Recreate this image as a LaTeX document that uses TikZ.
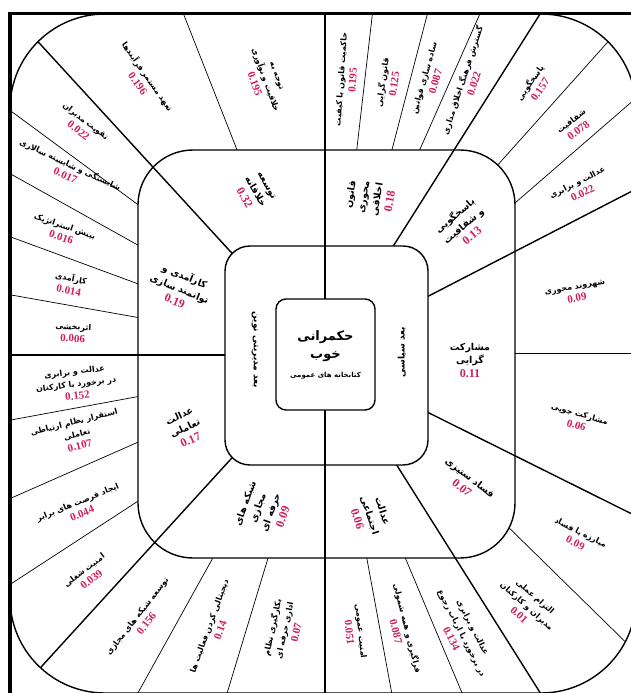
\documentclass[tikz,border=0pt]{standalone}
\usepackage{fontspec}
\TeXXeTstate=1
\newfontfamily\persianfont[Script=Arabic]{DejaVu Sans}
\newfontfamily\numfont{Liberation Serif}
\definecolor{numred}{HTML}{D41E5A}
\newcommand\pers[1]{{\persianfont\bfseries\beginR #1\endR}}
\newcommand\numv[1]{{\numfont\bfseries\color{numred}\fontsize{11}{12}\selectfont #1}}
\newcommand\numw[1]{{\numfont\bfseries\color{numred}\fontsize{12}{13}\selectfont #1}}
\begin{document}
\begin{tikzpicture}[x=1pt,y=-1pt,
  thinl/.style={line width=0.7pt},
  thickl/.style={line width=1.4pt},
  border/.style={line width=1.4pt},
  olab/.style={align=center, inner sep=0pt, font=\fontsize{8}{12.5}\selectfont},
  mlab/.style={align=center, inner sep=0pt, font=\fontsize{9.5}{13.5}\selectfont},
  ilab/.style={inner sep=0pt, font=\fontsize{9}{11}\selectfont}]
\useasboundingbox (0,0) rectangle (630,693);
\fill[white] (0,0) rectangle (630,693);
% ---------- outer ring dividers ----------
\begin{scope}
\clip[rounded corners=95pt] (10,14) rectangle (636,693);
\draw[thinl] (152,320) -- (0,293);
\draw[thinl] (152,289) -- (0,233);
\draw[thinl] (152,253) -- (0,168);
\draw[thinl] (152,215) -- (0,103);
\draw[thinl] (243,165) -- (178,0);
\draw[thinl] (355,165) -- (374,0);
\draw[thinl] (388,165) -- (431,0);
\draw[thinl] (413,165) -- (486,0);
\draw[thinl] (487,177) -- (640,6);
\draw[thinl] (500,216) -- (650,86);
\draw[thinl] (500,353) -- (640,353);
\draw[thinl] (498,517) -- (650,666);
\draw[thinl] (399,543) -- (465,700);
\draw[thinl] (364,543) -- (393,700);
\draw[thinl] (272,545) -- (225,700);
\draw[thinl] (220,545) -- (134,700);
\draw[thinl] (152,394) -- (0,422);
\draw[thinl] (152,436) -- (0,503);
\draw[thinl] (152,492) -- (0,591);
\draw[thickl] (325,-10) -- (325,710);
\draw[thickl] (-10,355) -- (240,355);
\draw[thickl] (251,274) -- (19,21);
\draw[thickl] (251,437) -- (21,689);
\draw[thickl] (387,256) -- (547,3);
\draw[thickl] (391,456) -- (546,702);
\draw[thickl] (417,302) -- (640,187);
\draw[thickl] (417,407) -- (640,518);
\end{scope}
% ---------- middle ring ----------
\fill[white, rounded corners=55pt] (138,150) rectangle (515,558);
\begin{scope}
\clip[rounded corners=55pt] (138,150) rectangle (515,558);
\draw[thickl] (325,100) -- (325,600);
\draw[thickl] (100,355) -- (240,355);
\draw[thickl] (251,274) -- (19,21);
\draw[thickl] (251,437) -- (21,689);
\draw[thickl] (387,256) -- (547,3);
\draw[thickl] (391,456) -- (546,702);
\draw[thickl] (417,302) -- (640,187);
\draw[thickl] (417,407) -- (640,518);
\end{scope}
% ---------- inner ring ----------
\fill[white, rounded corners=25pt] (225,246) rectangle (428,465);
\draw[thickl] (325,240) -- (325,470);
% ---------- borders ----------
\draw[border, rounded corners=95pt] (10,14) rectangle (636,693);
\draw[border, rounded corners=55pt] (138,150) rectangle (515,558);
\draw[border, rounded corners=25pt] (225,246) rectangle (428,465);
\draw[line width=3.5pt] (10,700) -- (10,13.5) -- (640,13.5);
% ---------- centre ----------
\node[draw, line width=1.4pt, fill=white, rounded corners=10pt, minimum width=99pt, minimum height=111pt, align=center, inner sep=0pt, font=\fontsize{13}{18}\selectfont] (core) at (325.5,354.5) {\pers{حکمرانی}\\\pers{خوب}\\[1pt]{\fontsize{7}{9}\selectfont\pers{کتابخانه های عمومی}}};
% ---------- inner labels ----------
\node[ilab, rotate=-90] (dimA) at (255,350) {\pers{بعد مدیریتی نوین}};
\node[ilab, rotate=90] (dimB) at (402,352) {\pers{بعد سیاسی}};
% ---------- middle labels ----------
\node[mlab, rotate=-60] (m1) at (255,192) {\pers{توسعه}\\\pers{خلاقانه}\\\numw{0.32}};
\node[mlab, rotate=80] (m2) at (370,198) {\pers{قانون}\\\pers{محوری}\\\pers{اخلاقی}\\\numw{0.18}};
\node[mlab, rotate=40] (m3) at (463,225) {\pers{پاسخگویی}\\\pers{و شفافیت}\\\numw{0.13}};
\node[mlab] (m4) at (470,360) {\pers{مشارکت}\\\pers{گرایی}\\\numw{0.11}};
\node[mlab, rotate=-38] (m5) at (466,483) {\pers{فساد ستیزی}\\\numw{0.07}};
\node[mlab, rotate=-72] (m6) at (370,515) {\pers{عدالت}\\\pers{اجتماعی}\\\numw{0.06}};
\node[mlab, rotate=70] (m7) at (264,510) {\pers{شبکه های}\\\pers{مجازی}\\\pers{حرفه ای}\\\numw{0.09}};
\node[mlab, rotate=25] (m8) at (185,428) {\pers{عدالت}\\\pers{تعاملی}\\\numw{0.17}};
\node[mlab, rotate=-22] (m9) at (180,288) {\pers{کارآمدی و}\\\pers{توانمند سازی}\\\numw{0.19}};
% ---------- outer labels ----------
\node[olab, rotate=-38] (o1) at (82,126) {\pers{تقویت مدیران}\\\numv{0.022}};
\node[olab, rotate=-25] (o2) at (68,170) {\pers{شایستگی و شایسته سالاری}\\\numv{0.017}};
\node[olab, rotate=-19] (o3) at (63,232) {\pers{بینش استراتژیک}\\\numv{0.016}};
\node[olab, rotate=-11] (o4) at (70,284) {\pers{کارآمدی}\\\numv{0.014}};
\node[olab, rotate=-3] (o5) at (73,333) {\pers{اثربخشی}\\\numv{0.006}};
\node[olab, rotate=7] (o6) at (76,384) {\pers{عدالت و برابری}\\\pers{در برخورد با کارکنان}\\\numv{0.152}};
\node[olab, rotate=14] (o7) at (77,434) {\pers{استقرار نظام ارتباطی}\\\pers{تعاملی}\\\numv{0.107}};
\node[olab, rotate=22] (o8) at (80,508) {\pers{ایجاد فرصت های برابر}\\\numv{0.044}};
\node[olab, rotate=38] (o9) at (88,575) {\pers{امنیت شغلی}\\\numv{0.039}};
\node[olab, rotate=52] (o10) at (142,620) {\pers{توسعه شبکه های مجازی}\\\numv{0.156}};
\node[olab, rotate=70] (o11) at (215,628) {\pers{دیجیتالی کردن فعالیت ها}\\\numv{0.14}};
\node[olab, rotate=78] (o12) at (284,630) {\pers{بکارگیری نظام}\\\pers{اداری حرفه ای}\\\numv{0.07}};
\node[olab, rotate=-84] (o13) at (355,632) {\pers{امنیت عمومی}\\\numv{0.051}};
\node[olab, rotate=-76] (o14) at (402,630) {\pers{فراگیری و همه شمولی}\\\numv{0.087}};
\node[olab, rotate=-63] (o15) at (462,633) {\pers{عدالت و برابری}\\\pers{در برخورد با ارباب رجوع}\\\numv{0.134}};
\node[olab, rotate=-42] (o16) at (527,606) {\pers{التزام عملی}\\\pers{مدیران و کارکنان}\\\numv{0.01}};
\node[olab, rotate=-27] (o17) at (578,538) {\pers{مبارزه با فساد}\\\numv{0.09}};
\node[olab, rotate=-16] (o18) at (578,420) {\pers{مشارکت جویی}\\\numv{0.06}};
\node[olab, rotate=10] (o19) at (576,293) {\pers{شهروند محوری}\\\numv{0.09}};
\node[olab, rotate=27] (o20) at (580,188) {\pers{عدالت و برابری}\\\numv{0.022}};
\node[olab, rotate=37] (o21) at (575,126) {\pers{شفافیت}\\\numv{0.078}};
\node[olab, rotate=55] (o22) at (535,86) {\pers{پاسخگویی}\\\numv{0.157}};
\node[olab, rotate=72] (o23) at (468,82) {\pers{گسترش فرهنگ اخلاق مداری}\\\numv{0.022}};
\node[olab, rotate=74] (o24) at (430,80) {\pers{ساده سازی قوانین}\\\numv{0.087}};
\node[olab, rotate=82] (o25) at (388,83) {\pers{قانون گرایی}\\\numv{0.125}};
\node[olab, rotate=86] (o26) at (347,80) {\pers{حاکمیت قانون با کیفیت}\\\numv{0.195}};
\node[olab, rotate=-70] (o27) at (265,80) {\pers{توجه به}\\\pers{خلاقیت و نوآوری}\\\numv{0.195}};
\node[olab, rotate=-55] (o28) at (143,80) {\pers{تعهد مستمر فرآیندها}\\\numv{0.196}};
\end{tikzpicture}
\end{document}
